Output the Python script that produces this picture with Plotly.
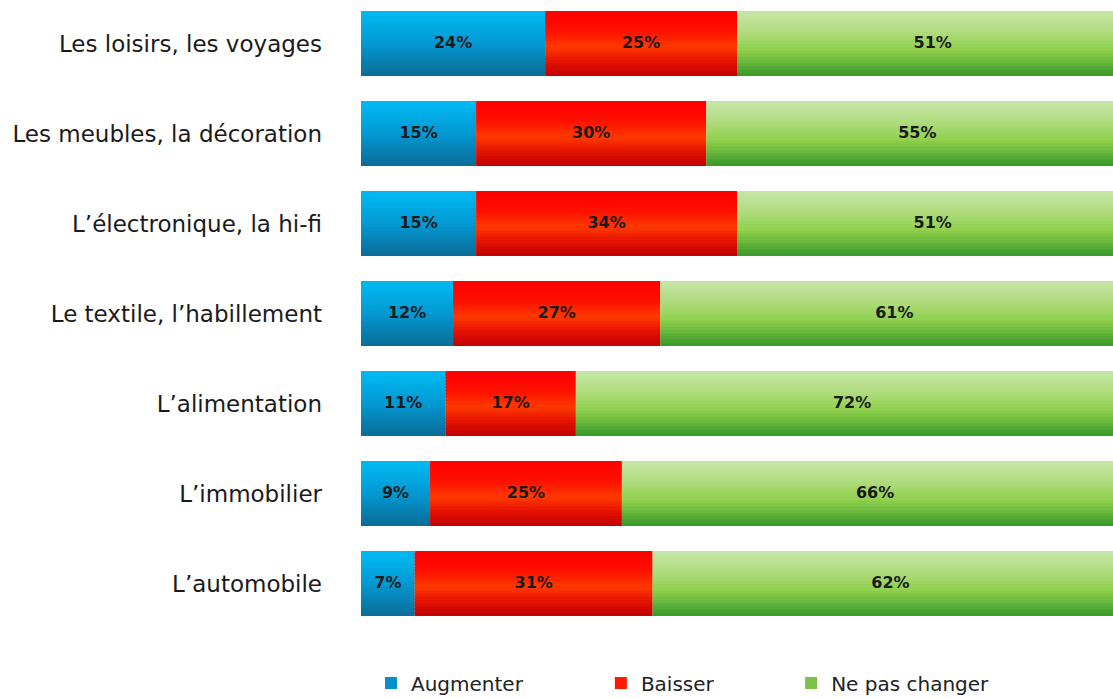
import plotly.graph_objects as go

# ---- data (bottom to top) ----
categories = ["L’automobile", "L’immobilier", "L’alimentation",
              "Le textile, l’habillement", "L’électronique, la hi-fi",
              "Les meubles, la décoration", "Les loisirs, les voyages"]
augmenter = [7, 9, 11, 12, 15, 15, 24]
baisser = [31, 25, 17, 27, 34, 30, 25]
ne_pas_changer = [62, 66, 72, 61, 51, 55, 51]
series_names = ["Augmenter", "Baisser", "Ne pas changer"]

# ---- style ----
FONT = "DejaVu Sans"
GRADIENTS = {
    "Augmenter": [(0.0, (0x00, 0xba, 0xf3)), (0.5, (0x03, 0x98, 0xd2)), (1.0, (0x0b, 0x6c, 0x96))],
    "Baisser": [(0.0, (0xff, 0x00, 0x00)), (0.3, (0xff, 0x10, 0x00)), (0.55, (0xff, 0x3a, 0x00)),
                (0.75, (0xe8, 0x14, 0x00)), (1.0, (0xc0, 0x00, 0x00))],
    "Ne pas changer": [(0.0, (0xc6, 0xe6, 0xa6)), (0.3, (0xb0, 0xdc, 0x80)), (0.6, (0x90, 0xd0, 0x4c)),
                       (1.0, (0x38, 0x98, 0x2a))],
}
LEGEND_COLORS = {"Augmenter": "#0a90c8", "Baisser": "#ff1a00", "Ne pas changer": "#7cc244"}
BAR_W = 0.71
N_STRIPS = 20


def grad_color(stops, t):
    for (p0, c0), (p1, c1) in zip(stops, stops[1:]):
        if p0 <= t <= p1:
            f = (t - p0) / (p1 - p0) if p1 > p0 else 0
            c = [round(a + (b - a) * f) for a, b in zip(c0, c1)]
            return "rgb(%d,%d,%d)" % tuple(c)
    return "rgb(%d,%d,%d)" % stops[-1][1]


values = [augmenter, baisser, ne_pas_changer]
bases = []
acc = [0] * len(categories)
for v in values:
    bases.append(list(acc))
    acc = [a + b for a, b in zip(acc, v)]

fig = go.Figure()
legend_ids = ["legend", "legend2", "legend3"]
for si, (name, vals, base) in enumerate(zip(series_names, values, bases)):
    stops = GRADIENTS[name]
    step = BAR_W / N_STRIPS
    for i in range(N_STRIPS):
        # i=0 bottom strip; t = position from top
        t = 1 - (i + 0.5) / N_STRIPS
        fig.add_trace(go.Bar(
            y=categories, x=vals, base=base, orientation="h",
            width=step * 1.35, offset=-BAR_W / 2 + i * step,
            marker=dict(color=grad_color(stops, t), line=dict(width=0)),
            showlegend=False, hoverinfo="skip", name=name,
        ))
    # legend entry
    fig.add_trace(go.Bar(
        y=[None], x=[None], orientation="h", name=name,
        marker=dict(color=LEGEND_COLORS[name], line=dict(width=0)),
        showlegend=True, legend=legend_ids[si],
    ))
    # labels
    fig.add_trace(go.Scatter(
        y=categories, x=[b + v / 2 for b, v in zip(base, vals)],
        mode="text", text=[f"{v}%" for v in vals],
        textfont=dict(family=FONT, size=16, color="#1a1a1a", weight="bold"),
        showlegend=False, hoverinfo="skip",
    ))

# plot area: 0..628 px high (t=0, b=70), 361..1113 px wide
leg_common = dict(orientation="h", yanchor="middle", xanchor="left", y=-0.0876,
                  font=dict(family=FONT, size=20, color="#222222"),
                  bgcolor="rgba(0,0,0,0)")
fig.update_layout(
    barmode="overlay",
    width=1113, height=698,
    margin=dict(l=361, r=0, t=0, b=70, pad=0, autoexpand=False),
    paper_bgcolor="white", plot_bgcolor="white",
    xaxis=dict(range=[0, 98.0], visible=False, fixedrange=True),
    yaxis=dict(type="category", categoryorder="array", categoryarray=categories,
               range=[-0.489, 6.489], showgrid=False, zeroline=False, showline=False,
               ticks="", ticklabelstandoff=38, fixedrange=True,
               tickfont=dict(family=FONT, size=23, color="#1a1a1a")),
    legend=dict(x=0.0133, **leg_common),
    legend2=dict(x=0.319, **leg_common),
    legend3=dict(x=0.572, **leg_common),
    showlegend=True,
)

fig.write_html(
    "out.html",
    config={"displayModeBar": False},
    post_script="document.body.style.margin='0';document.documentElement.style.overflow='hidden';",
)
